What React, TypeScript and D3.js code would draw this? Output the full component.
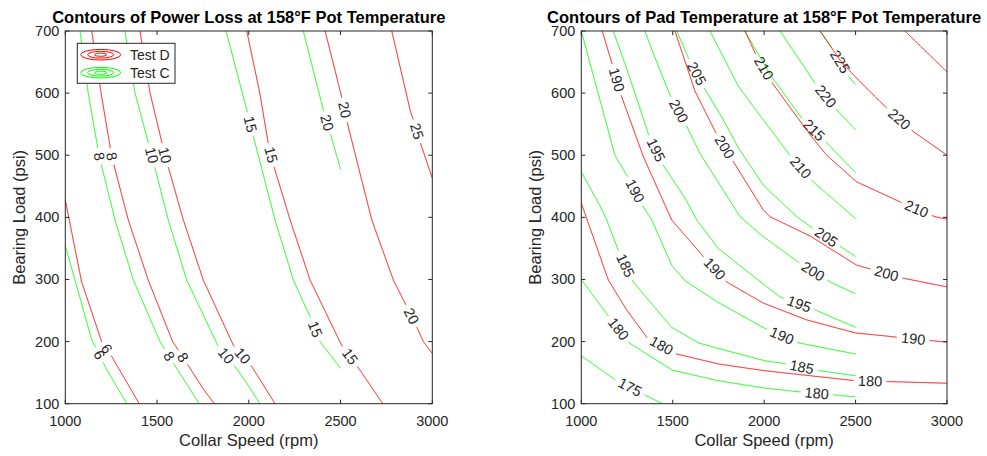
import React from "react";
import * as d3 from "d3";

// axis ticks
const rpmTicks = [1000, 1500, 2000, 2500, 3000];
const psiTicks = [100, 200, 300, 400, 500, 600, 700];
const legendNames = ["Test D", "Test C"];

type Contour = { level: number; path: [number, number][]; labels: [number, number][] };

// contour polylines: [rpm, psi]; labels = where clabel put the number
const lossTestD: Contour[] = [
  { level: 6, path: [[1000, 428], [1089, 296], [1198, 200], [1253, 176], [1403, 100]], labels: [[1225, 188]] },
  { level: 8, path: [[1144, 700], [1195, 600], [1253, 498], [1343, 396], [1452, 299], [1585, 200], [1680, 157], [1756, 122], [1812, 100]], labels: [[1253, 498], [1634, 173]] },
  { level: 10, path: [[1407, 700], [1462, 600], [1543, 500], [1643, 396], [1752, 299], [1916, 194], [2016, 160], [2143, 100]], labels: [[1543, 500], [1961, 176]] },
  { level: 15, path: [[1989, 700], [2060, 600], [2106, 519], [2143, 476], [2225, 396], [2334, 299], [2506, 194], [2606, 154], [2730, 100]], labels: [[2116, 500], [2552, 176]] },
  { level: 20, path: [[2416, 700], [2506, 594], [2542, 546], [2670, 396], [2788, 299], [2851, 262], [2915, 224], [2951, 200], [3000, 181]], labels: [[2515, 573], [2879, 240]] },
  { level: 25, path: [[2779, 700], [2879, 573], [2942, 514], [3000, 463]], labels: [[2906, 538]] },
];

const lossTestC: Contour[] = [
  { level: 6, path: [[1000, 354], [1053, 299], [1144, 203], [1222, 157], [1335, 100]], labels: [[1180, 178]] },
  { level: 8, path: [[1080, 700], [1125, 600], [1185, 498], [1271, 396], [1371, 299], [1516, 200], [1607, 157], [1730, 100]], labels: [[1185, 498], [1561, 176]] },
  { level: 10, path: [[1325, 700], [1380, 600], [1471, 500], [1561, 396], [1662, 299], [1834, 192], [1925, 160], [1989, 133], [2061, 100]], labels: [[1471, 500], [1861, 173]] },
  { level: 15, path: [[1876, 700], [1989, 573], [2025, 530], [2143, 396], [2243, 299], [2334, 240], [2388, 200], [2500, 157]], labels: [[1998, 549], [2352, 219]] },
  { level: 20, path: [[2297, 700], [2406, 573], [2452, 527], [2500, 477]], labels: [[2415, 551]] },
];

const padTestD: Contour[] = [
  { level: 180, path: [[1000, 423], [1148, 299], [1248, 251], [1358, 207], [1522, 180], [1749, 164], [2005, 153], [2500, 137], [3000, 133]], labels: [[1430, 189], [2579, 136]] },
  { level: 190, path: [[1115, 700], [1221, 594], [1339, 498], [1494, 396], [1667, 337], [1795, 296], [1995, 262], [2232, 235], [2497, 214], [3000, 199]], labels: [[1184, 621], [1722, 315], [2816, 204]] },
  { level: 200, path: [[1512, 700], [1622, 603], [1731, 539], [1831, 490], [1995, 412], [2032, 401], [2251, 370], [2506, 323], [2761, 302], [3000, 288]], labels: [[1768, 510], [2670, 310]] },
  { level: 210, path: [[1895, 700], [1950, 665], [2050, 614], [2251, 533], [2342, 500], [2506, 457], [2743, 425], [2934, 401], [3000, 397]], labels: [[1987, 638], [2834, 415]] },
  { level: 220, path: [[2306, 700], [2415, 653], [2506, 624], [2670, 576], [2816, 538], [3000, 500]], labels: [[2725, 554]] },
  { level: 230, path: [[2770, 700], [3000, 634]], labels: [] },
];

const padTestC: Contour[] = [
  { level: 175, path: [[1000, 177], [1184, 139], [1348, 114], [1443, 100]], labels: [[1257, 122]] },
  { level: 180, path: [[1000, 300], [1148, 241], [1266, 197], [1498, 154], [1749, 137], [2005, 125], [2196, 119], [2387, 114], [2500, 111]], labels: [[1199, 219], [2287, 117]] },
  { level: 185, path: [[1000, 473], [1100, 420], [1139, 396], [1202, 347], [1284, 296], [1494, 223], [1640, 198], [1749, 189], [2005, 169], [2123, 164], [2305, 153], [2500, 145]], labels: [[1230, 321], [2205, 157]] },
  { level: 190, path: [[1000, 700], [1184, 500], [1248, 468], [1339, 417], [1385, 396], [1494, 323], [1567, 298], [1749, 263], [2005, 221], [2187, 198], [2500, 180]], labels: [[1284, 441], [2096, 208]] },
  { level: 195, path: [[1175, 700], [1257, 632], [1366, 535], [1448, 484], [1567, 431], [1631, 396], [1749, 350], [1968, 299], [2087, 272], [2278, 251], [2500, 223]], labels: [[1403, 508], [2187, 258]] },
  { level: 200, path: [[1348, 700], [1403, 657], [1485, 597], [1576, 547], [1649, 503], [1868, 401], [1995, 369], [2196, 326], [2360, 296], [2500, 277]], labels: [[1512, 568], [2260, 310]] },
  { level: 205, path: [[1522, 700], [1585, 657], [1677, 606], [1777, 557], [1859, 512], [1995, 452], [2178, 401], [2269, 382], [2433, 350], [2500, 337]], labels: [[1622, 630], [2333, 366]] },
  { level: 210, path: [[1704, 700], [1859, 611], [1995, 557], [2141, 500], [2269, 457], [2500, 398]], labels: [[2196, 479]] },
  { level: 215, path: [[1895, 700], [2032, 630], [2205, 560], [2342, 520], [2500, 472]], labels: [[2269, 539]] },
  { level: 220, path: [[2087, 700], [2278, 616], [2397, 573], [2500, 541]], labels: [[2324, 592]] },
  { level: 225, path: [[2306, 700], [2369, 673], [2470, 624], [2500, 614]], labels: [[2405, 649]] },
];

const red = "#ff0000";
const green = "#00ff00";
const ink = "#262626";
const font = "'Liberation Sans', Arial, Helvetica, sans-serif";
const tickSize = 14.5;
const labelSize = 14.5;

const top = 31;
const bottom = 403.7;

type Pt = { x: number; y: number; gap: boolean };

function ContourPath({ c, color, x, y }: { c: Contour; color: string; x: any; y: any }) {
  const pts = c.path.map(([r, p]) => [x(r), y(p)]);
  const dense: Pt[] = [];
  for (let i = 0; i < pts.length - 1; i++) {
    const [x0, y0] = pts[i];
    const [x1, y1] = pts[i + 1];
    const n = Math.max(1, Math.ceil(Math.hypot(x1 - x0, y1 - y0) / 0.5));
    for (let k = 0; k < n; k++) dense.push({ x: x0 + ((x1 - x0) * k) / n, y: y0 + ((y1 - y0) * k) / n, gap: false });
  }
  const last = pts[pts.length - 1];
  dense.push({ x: last[0], y: last[1], gap: false });

  const text = String(c.level);
  const half = (text.length * labelSize * 0.556) / 2 + 4;

  const marks = c.labels.map(([r, p]) => {
    const lx = x(r), ly = y(p);
    let best = 0, bd = Infinity;
    dense.forEach((d, i) => {
      const dd = (d.x - lx) ** 2 + (d.y - ly) ** 2;
      if (dd < bd) { bd = dd; best = i; }
    });
    const m = dense[best];
    const a = dense[Math.max(0, best - 14)];
    const b = dense[Math.min(dense.length - 1, best + 14)];
    let ang = (Math.atan2(b.y - a.y, b.x - a.x) * 180) / Math.PI;
    if (ang > 90) ang -= 180;
    if (ang < -90) ang += 180;
    dense.forEach(d => { if (Math.hypot(d.x - m.x, d.y - m.y) < half) d.gap = true; });
    return { cx: m.x, cy: m.y, ang };
  });

  const line = d3.line<Pt>().x(d => d.x).y(d => d.y).defined(d => !d.gap);

  return (
    <g>
      <path d={line(dense) || ""} fill="none" stroke={color} strokeWidth={1} />
      {marks.map((m, i) => (
        <text key={i} transform={`translate(${m.cx},${m.cy}) rotate(${m.ang})`} textAnchor="middle"
          dominantBaseline="central" fontSize={labelSize} fill={ink} fontFamily={font}>{text}</text>
      ))}
    </g>
  );
}

function Panel({ id, left, right, title, testD, testC, legend }: {
  id: string; left: number; right: number; title: string; testD: Contour[]; testC: Contour[]; legend?: boolean;
}) {
  const x = d3.scaleLinear().domain([1000, 3000]).range([left, right]);
  const y = d3.scaleLinear().domain([100, 700]).range([bottom, top]);
  const cx = (left + right) / 2;
  const cy = (top + bottom) / 2;
  return (
    <g>
      <defs>
        <clipPath id={id}>
          <rect x={left} y={top} width={right - left} height={bottom - top} />
        </clipPath>
      </defs>
      <rect x={left} y={top} width={right - left} height={bottom - top} fill="#fff" />
      <g clipPath={`url(#${id})`}>
        {testC.map(c => <ContourPath key={"c" + c.level} c={c} color={green} x={x} y={y} />)}
        {testD.map(c => <ContourPath key={"d" + c.level} c={c} color={red} x={x} y={y} />)}
      </g>
      {/* axes box + ticks */}
      <rect x={left} y={top} width={right - left} height={bottom - top} fill="none" stroke={ink} strokeWidth={1} />
      {rpmTicks.map(t => (
        <g key={"xt" + t}>
          <line x1={x(t)} x2={x(t)} y1={bottom} y2={bottom - 4} stroke={ink} />
          <line x1={x(t)} x2={x(t)} y1={top} y2={top + 4} stroke={ink} />
          <text x={x(t)} y={bottom + 22.3} textAnchor="middle" fontSize={tickSize} fill={ink} fontFamily={font}>{t}</text>
        </g>
      ))}
      {psiTicks.map(t => (
        <g key={"yt" + t}>
          <line x1={left} x2={left + 4} y1={y(t)} y2={y(t)} stroke={ink} />
          <line x1={right} x2={right - 4} y1={y(t)} y2={y(t)} stroke={ink} />
          <text x={left - 6} y={y(t)} textAnchor="end" dominantBaseline="central" fontSize={tickSize} fill={ink} fontFamily={font}>{t}</text>
        </g>
      ))}
      <text x={cx} y={446} textAnchor="middle" fontSize={16.5} fill={ink} fontFamily={font}>Collar Speed (rpm)</text>
      <text transform={`translate(${left - 40},${cy}) rotate(-90)`} textAnchor="middle" fontSize={16.5} fill={ink} fontFamily={font}>Bearing Load (psi)</text>
      <text x={cx} y={23.3} textAnchor="middle" fontSize={16.5} fontWeight="bold" fill="#000" fontFamily={font}>{title}</text>
      {legend && (
        <g>
          <rect x={77.3} y={43.3} width={97.7} height={40} fill="#fff" stroke={ink} strokeWidth={1} />
          {legendNames.map((name, i) => {
            const ly = 54.7 + i * 18;
            const col = i === 0 ? red : green;
            return (
              <g key={name}>
                <ellipse cx={100.7} cy={ly} rx={20} ry={5.3} fill="none" stroke={col} />
                <ellipse cx={100.7} cy={ly} rx={13} ry={3.4} fill="none" stroke={col} />
                <ellipse cx={100.7} cy={ly} rx={6} ry={1.6} fill="none" stroke={col} />
                <text x={130} y={ly + 0.3} dominantBaseline="central" fontSize={14} fill={ink} fontFamily={font}>{name}</text>
              </g>
            );
          })}
        </g>
      )}
    </g>
  );
}

export default function App() {
  return (
    <svg width={987} height={456} style={{ position: "absolute", left: 0, top: 0, background: "#fff" }}>
      <rect width={987} height={456} fill="#fff" />
      <Panel id="clipLoss" left={65.3} right={432.3} title="Contours of Power Loss at 158°F Pot Temperature"
        testD={lossTestD} testC={lossTestC} legend />
      <Panel id="clipPad" left={581.3} right={947} title="Contours of Pad Temperature at 158°F Pot Temperature"
        testD={padTestD} testC={padTestC} />
    </svg>
  );
}
